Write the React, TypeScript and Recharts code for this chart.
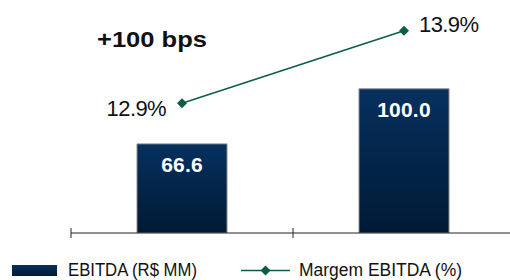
import { ComposedChart, Bar, Line, XAxis, YAxis, LabelList, Legend, Customized } from 'recharts'

const periods = ['1T', '2T']
const ebitda = [66.6, 100.0]
const margin = [12.9, 13.9]
const xTicks = [0, 1, 2]

const data = periods.map((p, i) => ({ name: p, x: i + 0.5, ebitda: ebitda[i], margin: margin[i] }))

const FONT = '"Liberation Sans", Arial, sans-serif'
const GREEN = '#0b5c48'

function AxisTick(props: any) {
  const { x, y } = props
  return <line x1={x} x2={x} y1={y - 5} y2={y + 5} stroke="#222" strokeWidth={1} />
}

function Diamond(props: any) {
  const { cx, cy } = props
  if (cx == null || cy == null) return null
  const r = 5
  return <polygon points={`${cx},${cy - r} ${cx + r},${cy} ${cx},${cy + r} ${cx - r},${cy}`} fill={GREEN} />
}

function MarginLabel(props: any) {
  const { x, y, value, index } = props
  const left = index === 0
  return (
    <text
      x={left ? x - 16 : x + 15}
      y={left ? y + 13 : y + 1}
      textAnchor={left ? 'end' : 'start'}
      fontSize={22}
      fontFamily={FONT}
      letterSpacing={-0.6}
      fill="#111"
    >
      {value.toFixed(1)}%
    </text>
  )
}

function BarValue(props: any) {
  const { x, y, width, value } = props
  return (
    <text x={x + width / 2} y={y + 28.5} textAnchor="middle" fontSize={21} fontWeight="bold" fontFamily={FONT} letterSpacing={0.2} fill="#fff">
      {value.toFixed(1)}
    </text>
  )
}

function Headline() {
  return (
    <text x={97} y={47} fontSize={22} fontWeight="bold" fontFamily={FONT} textLength={110} lengthAdjust="spacingAndGlyphs" fill="#111">
      +100 bps
    </text>
  )
}

function LegendBox() {
  return (
    <svg width={510} height={25} style={{ display: 'block' }}>
      <defs>
        <linearGradient id="legBar" x1="0" y1="0" x2="0" y2="1">
          <stop offset="0%" stopColor="#06305f" />
          <stop offset="100%" stopColor="#001a35" />
        </linearGradient>
      </defs>
      <rect x={12} y={10} width={45} height={11} fill="url(#legBar)" />
      <text x={68} y={21} fontSize={17.5} fontFamily={FONT} textLength={129} lengthAdjust="spacingAndGlyphs" fill="#111">
        EBITDA (R$ MM)
      </text>
      <line x1={241} x2={290} y1={15.5} y2={15.5} stroke={GREEN} strokeWidth={1.5} />
      <polygon points="265.5,10.5 270.5,15.5 265.5,20.5 260.5,15.5" fill={GREEN} />
      <text x={299} y={21} fontSize={17.5} fontFamily={FONT} textLength={163} lengthAdjust="spacingAndGlyphs" fill="#111">
        Margem EBITDA (%)
      </text>
    </svg>
  )
}

export default function App() {
  return (
    <div style={{ position: 'absolute', left: 0, top: 0, width: 510, height: 280, overflow: 'hidden', background: '#fff' }}>
      <ComposedChart width={520} height={280} data={data} margin={{ top: 20, right: 5, bottom: 0, left: 71 }}>
        <defs>
          <linearGradient id="barGrad" x1="0" y1="0" x2="0" y2="1">
            <stop offset="0%" stopColor="#06305f" />
            <stop offset="100%" stopColor="#001a35" />
          </linearGradient>
        </defs>
        <XAxis
          dataKey="x"
          type="number"
          domain={[0, 2]}
          ticks={xTicks}
          axisLine={{ stroke: '#222' }}
          tickLine={false}
          tickSize={0}
          tickMargin={0}
          tick={<AxisTick />}
          height={22}
        />
        <YAxis yAxisId="bar" hide domain={[12.5, 141.8]} allowDataOverflow />
        <YAxis yAxisId="line" hide orientation="right" domain={[11.114, 14.047]} allowDataOverflow />
        <Bar yAxisId="bar" dataKey="ebitda" barSize={90} fill="url(#barGrad)" stroke="#8a8a8a" strokeWidth={1} isAnimationActive={false}>
          <LabelList dataKey="ebitda" content={<BarValue />} />
        </Bar>
        <Line yAxisId="line" dataKey="margin" stroke={GREEN} strokeWidth={1.5} dot={<Diamond />} activeDot={false} isAnimationActive={false}>
          <LabelList dataKey="margin" content={<MarginLabel />} />
        </Line>
        <Customized component={Headline} />
        <Legend verticalAlign="bottom" height={25} content={<LegendBox />} wrapperStyle={{ left: 0, width: 510 }} />
      </ComposedChart>
    </div>
  )
}
